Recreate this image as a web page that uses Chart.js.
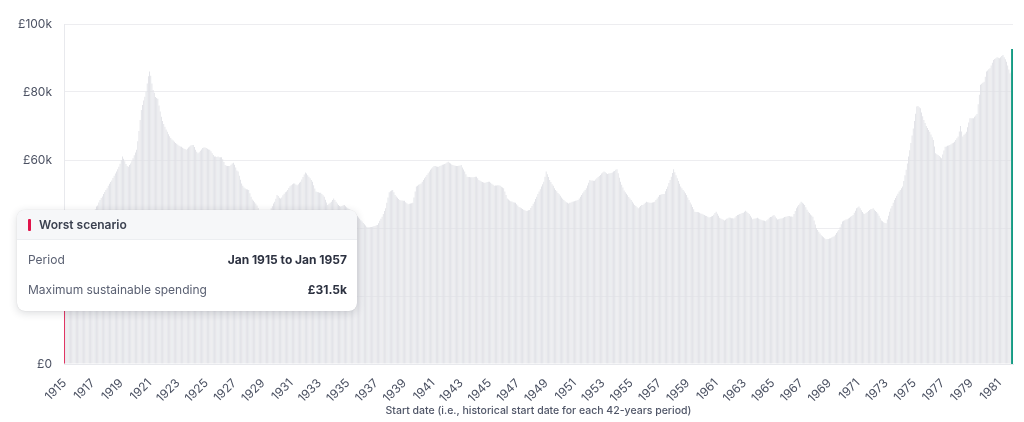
<!DOCTYPE html>
<html>
<head>
<meta charset="utf-8">
<title>Maximum sustainable spending</title>
<script src="https://cdn.jsdelivr.net/npm/chart.js@4.4.1/dist/chart.umd.min.js"></script>
<style>
  html, body { margin: 0; padding: 0; background: #fff; }
  #wrap { position: relative; width: 1024px; height: 422px; font-family: Inter, "Noto Sans", sans-serif; }
  #tip {
    position: absolute; left: 17px; top: 210px; width: 340px; height: 101px;
    background: #fff; border-radius: 8px; overflow: hidden;
    box-shadow: 0 2px 8px rgba(30, 35, 50, 0.16), 0 0 1px rgba(30, 35, 50, 0.2);
  }
  #tip .head {
    height: 29px; background: #f6f7f9; border-bottom: 1px solid #eceef1;
    display: flex; align-items: center; font-size: 12px; font-weight: 600; color: #3b4150;
  }
  #tip .mark { width: 3px; height: 12px; background: #e0134a; border-radius: 1px; margin: 0 8px 0 11px; }
  #tip .row { display: flex; justify-content: space-between; padding: 0 10px 0 11px; font-size: 12px; height: 30px; align-items: center; }
  #tip .lab { color: #5a6072; }
  #tip .val { color: #2c3140; font-weight: 700; }
</style>
</head>
<body>
<div id="wrap">
  <canvas id="chart"></canvas>
  <div id="tip">
    <div class="head"><span class="mark"></span><span>Worst scenario</span></div>
    <div class="row" style="margin-top:4px"><span class="lab">Period</span><span class="val" id="tipPeriod"></span></div>
    <div class="row"><span class="lab">Maximum sustainable spending</span><span class="val" id="tipValue"></span></div>
  </div>
</div>
<script>
// first start month of the series and length of each period
var startYear = 1915;
var periodYears = 42;
var monthNames = ['Jan', 'Feb', 'Mar', 'Apr', 'May', 'Jun', 'Jul', 'Aug', 'Sep', 'Oct', 'Nov', 'Dec'];

// labels shown under the x axis
var tickYears = ['1915', '1917', '1919', '1921', '1923', '1925', '1927', '1929', '1931', '1933', '1935',
  '1937', '1939', '1941', '1943', '1945', '1947', '1949', '1951', '1953', '1955', '1957', '1959',
  '1961', '1963', '1965', '1967', '1969', '1971', '1973', '1975', '1977', '1979', '1981'];

// maximum sustainable spending (in £k), one value per monthly start date, Jan 1915 .. Dec 1981
var spending = [
  31.5, 32.3, 32.9, 33.6, 34.1, 34.8, 35.3, 35.9, 36.6, 37.0, 37.7, 38.2, // 1915
  38.7, 39.3, 39.8, 40.1, 40.8, 41.2, 41.7, 42.0, 42.6, 43.0, 43.5, 43.9, // 1916
  44.4, 44.9, 45.5, 46.3, 46.6, 47.5, 48.2, 48.8, 49.3, 50.0, 50.6, 51.2, // 1917
  51.7, 52.4, 53.0, 53.5, 54.0, 54.7, 55.4, 56.0, 56.6, 57.3, 58.0, 58.9, // 1918
  60.0, 61.0, 60.4, 59.6, 58.8, 58.2, 58.0, 58.5, 59.0, 59.6, 60.5, 61.4, // 1919
  62.2, 63.0, 65.5, 68.5, 71.8, 74.7, 76.2, 77.5, 78.6, 80.0, 82.5, 84.6, // 1920
  86.0, 84.8, 82.5, 80.6, 79.8, 78.5, 78.2, 78.0, 76.0, 74.3, 72.7, 71.5, // 1921
  70.6, 69.8, 69.0, 68.3, 67.6, 67.0, 66.5, 66.0, 65.7, 65.4, 65.0, 64.8, // 1922
  64.5, 64.2, 64.0, 63.9, 63.6, 63.4, 63.2, 63.0, 63.3, 63.7, 64.0, 64.3, // 1923
  64.4, 64.4, 63.8, 63.0, 62.4, 62.0, 62.3, 62.7, 63.1, 63.5, 63.7, 63.7, // 1924
  63.5, 63.3, 63.1, 63.0, 62.6, 62.0, 61.5, 61.0, 61.0, 60.9, 61.0, 60.8, // 1925
  60.8, 60.8, 60.2, 59.4, 58.5, 58.3, 58.2, 58.2, 58.2, 58.6, 59.0, 59.2, // 1926
  58.6, 57.8, 56.9, 56.6, 55.4, 54.2, 53.1, 52.4, 51.9, 51.6, 51.4, 51.3, // 1927
  51.2, 50.2, 49.2, 48.4, 48.0, 47.6, 47.2, 46.6, 45.9, 45.3, 44.9, 44.6, // 1928
  44.3, 44.1, 44.0, 44.2, 44.5, 44.9, 45.3, 45.8, 46.4, 47.2, 47.7, 48.6, // 1929
  49.7, 49.4, 48.9, 48.7, 49.0, 49.6, 50.1, 50.5, 50.7, 51.2, 51.8, 52.3, // 1930
  52.6, 52.9, 53.1, 53.1, 52.8, 52.6, 52.9, 53.3, 53.6, 54.3, 55.0, 55.7, // 1931
  56.3, 56.0, 55.5, 55.1, 54.6, 54.1, 53.6, 52.6, 51.6, 50.7, 50.6, 50.5, // 1932
  50.4, 50.4, 50.0, 49.6, 49.2, 48.3, 47.5, 46.8, 47.1, 47.4, 47.7, 48.2, // 1933
  48.7, 48.2, 47.7, 47.2, 46.8, 46.5, 46.3, 46.5, 46.7, 46.8, 46.4, 46.1, // 1934
  45.8, 45.6, 45.4, 45.3, 44.9, 44.6, 44.3, 43.9, 43.5, 43.1, 42.7, 42.3, // 1935
  41.9, 41.5, 41.1, 40.7, 40.4, 40.2, 40.2, 40.3, 40.3, 40.4, 40.5, 40.6, // 1936
  40.8, 40.9, 41.4, 42.1, 42.7, 43.3, 44.1, 45.0, 45.8, 47.4, 49.0, 50.5, // 1937
  50.8, 51.0, 51.2, 50.5, 49.7, 49.3, 48.9, 48.5, 48.2, 48.1, 48.1, 48.0, // 1938
  48.0, 47.6, 47.3, 47.0, 47.1, 47.2, 47.3, 47.4, 49.0, 50.7, 52.2, 52.4, // 1939
  52.7, 52.9, 53.1, 53.6, 54.1, 54.6, 55.1, 55.6, 56.1, 56.6, 57.1, 57.5, // 1940
  57.9, 58.2, 58.2, 58.1, 58.0, 58.0, 58.2, 58.4, 58.6, 58.7, 58.8, 59.0, // 1941
  59.3, 59.5, 59.2, 59.0, 58.7, 58.5, 58.4, 58.3, 58.2, 58.2, 58.3, 58.4, // 1942
  58.5, 57.8, 57.2, 56.6, 55.8, 55.1, 55.0, 55.0, 54.9, 54.9, 54.9, 55.0, // 1943
  55.1, 55.1, 54.6, 54.1, 53.9, 53.7, 53.5, 53.4, 53.3, 53.4, 53.5, 53.6, // 1944
  53.6, 53.3, 53.0, 52.7, 52.4, 52.5, 52.5, 52.6, 52.6, 52.4, 52.1, 51.9, // 1945
  51.7, 50.7, 49.7, 48.7, 48.4, 48.1, 47.9, 47.8, 47.6, 47.5, 47.4, 47.0, // 1946
  46.6, 46.2, 46.0, 45.8, 45.6, 45.4, 45.2, 45.0, 45.1, 45.2, 45.3, 45.9, // 1947
  46.5, 47.1, 47.7, 48.5, 49.2, 50.0, 50.7, 51.4, 52.2, 52.9, 53.6, 55.1, // 1948
  56.6, 55.8, 55.0, 54.1, 53.5, 52.9, 52.4, 51.7, 51.2, 50.8, 50.3, 49.9, // 1949
  49.5, 49.0, 48.6, 48.2, 47.9, 47.6, 47.4, 47.2, 47.4, 47.5, 47.7, 47.8, // 1950
  47.9, 48.0, 48.1, 48.2, 48.7, 49.2, 49.7, 50.2, 50.7, 51.2, 51.7, 52.5, // 1951
  53.3, 54.1, 54.0, 54.0, 53.9, 53.9, 54.3, 54.6, 55.0, 55.3, 55.6, 56.0, // 1952
  56.3, 56.6, 56.4, 56.1, 55.9, 56.0, 56.1, 56.2, 56.3, 56.6, 56.8, 57.1, // 1953
  57.3, 56.1, 54.8, 53.6, 52.7, 51.9, 51.0, 50.5, 50.1, 49.6, 49.1, 48.7, // 1954
  48.2, 47.7, 47.2, 46.8, 46.5, 46.1, 45.8, 46.1, 46.5, 46.8, 46.8, 47.1, // 1955
  47.4, 47.7, 47.6, 47.5, 47.4, 47.4, 47.5, 47.6, 47.7, 48.2, 48.7, 49.2, // 1956
  49.7, 49.8, 49.9, 50.0, 50.0, 50.8, 51.5, 52.2, 53.2, 54.1, 55.1, 56.2, // 1957
  57.3, 56.4, 55.5, 54.6, 53.8, 53.0, 52.2, 51.7, 51.2, 50.7, 50.2, 49.7, // 1958
  49.0, 48.2, 47.5, 46.9, 46.2, 45.5, 44.8, 44.7, 44.7, 44.6, 44.5, 44.3, // 1959
  44.2, 44.0, 43.8, 43.6, 43.5, 43.3, 43.1, 43.2, 43.4, 43.5, 43.9, 44.4, // 1960
  44.8, 44.2, 43.6, 43.0, 42.8, 42.6, 42.4, 42.2, 42.4, 42.7, 42.9, 43.1, // 1961
  43.0, 42.9, 42.9, 42.8, 43.1, 43.5, 43.8, 43.9, 44.1, 44.2, 44.4, 44.5, // 1962
  44.8, 45.1, 44.8, 44.4, 44.1, 43.6, 43.1, 42.6, 42.7, 42.8, 42.9, 43.0, // 1963
  42.8, 42.6, 42.4, 42.3, 42.2, 42.1, 42.0, 42.3, 42.6, 43.0, 43.2, 43.3, // 1964
  43.6, 43.8, 43.4, 42.9, 42.5, 42.6, 42.7, 42.8, 42.9, 43.0, 43.2, 43.3, // 1965
  43.4, 43.5, 43.5, 43.4, 43.4, 43.3, 44.1, 45.0, 45.8, 46.3, 46.8, 47.2, // 1966
  47.7, 47.4, 47.1, 46.8, 46.1, 45.4, 44.8, 44.4, 44.0, 43.7, 43.3, 42.2, // 1967
  41.0, 39.9, 39.4, 38.9, 38.4, 37.9, 37.6, 37.3, 37.0, 36.7, 36.8, 36.8, // 1968
  36.9, 37.0, 37.2, 37.4, 37.6, 38.0, 38.5, 39.0, 39.4, 40.2, 41.1, 41.9, // 1969
  42.1, 42.3, 42.5, 42.6, 42.8, 43.0, 43.3, 43.5, 43.8, 44.5, 45.1, 45.8, // 1970
  46.0, 46.3, 45.8, 45.2, 44.7, 44.3, 44.1, 44.4, 44.7, 45.0, 45.3, 45.5, // 1971
  45.6, 45.8, 45.4, 45.0, 44.7, 44.3, 43.6, 42.9, 42.2, 42.0, 41.7, 41.5, // 1972
  41.4, 42.5, 43.6, 44.8, 45.7, 46.5, 47.4, 48.2, 48.8, 49.5, 50.1, 50.7, // 1973
  51.2, 51.7, 52.2, 53.8, 55.5, 57.1, 59.0, 61.0, 62.9, 65.0, 67.2, 69.3, // 1974
  71.5, 73.6, 75.7, 75.9, 75.5, 75.2, 74.0, 72.9, 71.8, 70.9, 70.0, 69.4, // 1975
  68.8, 68.3, 67.5, 66.7, 65.9, 64.0, 62.0, 61.7, 61.5, 61.2, 60.8, 60.5, // 1976
  61.6, 62.8, 63.9, 64.0, 64.2, 64.3, 64.4, 64.6, 64.9, 65.1, 65.4, 65.9, // 1977
  66.4, 66.9, 68.4, 70.0, 68.4, 66.9, 67.4, 67.8, 68.3, 69.6, 71.0, 72.3, // 1978
  72.3, 72.3, 72.3, 72.7, 73.1, 73.5, 76.4, 79.2, 82.1, 82.4, 82.7, 83.0, // 1979
  84.5, 86.0, 86.3, 86.7, 87.0, 87.8, 88.6, 89.4, 89.7, 89.9, 90.2, 90.1, // 1980
  89.9, 90.2, 90.6, 90.9, 90.2, 89.6, 88.9, 87.8, 86.6, 85.5, 86.0, 92.4  // 1981
];

// one category per monthly start date
var startDates = [];
spending.forEach(function(v, i){
  startDates.push(monthNames[i % 12] + ' ' + (startYear + Math.floor(i / 12)));
});

var worst = 0;
spending.forEach(function(v, i){ if (v < spending[worst]) worst = i; });
var last = spending.length - 1;

var fontFamily = 'Inter, "Noto Sans", sans-serif';

new Chart(document.getElementById('chart'), {
  type: 'bar',
  data: {
    labels: startDates,
    datasets: [{
      data: spending,
      backgroundColor: function(ctx){
        if (ctx.dataIndex === worst) return '#e0134a';
        if (ctx.dataIndex === last) return '#149b83';
        return '#dfe0e5';
      },
      inflateAmount: function(ctx){
        return ctx.dataIndex === last ? 0.9 : 'auto';
      },
      categoryPercentage: 0.8,
      barPercentage: 0.9
    }]
  },
  options: {
    responsive: true,
    maintainAspectRatio: false,
    animation: false,
    events: [],
    layout: { padding: { left: 0, right: 11, top: 24, bottom: 0 } },
    plugins: { legend: { display: false }, tooltip: { enabled: false } },
    scales: {
      x: {
        grid: { display: false },
        border: { color: '#e8e9ed' },
        ticks: {
          autoSkip: false,
          minRotation: 45,
          maxRotation: 45,
          padding: 4,
          color: '#4b5162',
          font: { family: fontFamily, size: 12 },
          callback: function(value, i){
            var label = startDates[i];
            if (label.indexOf('Jan ') !== 0) return '';
            var year = label.slice(4);
            return tickYears.indexOf(year) >= 0 ? year : '';
          }
        },
        title: {
          display: true,
          text: 'Start date (i.e., historical start date for each ' + periodYears + '-years period)',
          color: '#4f5567',
          font: { family: fontFamily, size: 10.5, weight: 500 },
          padding: { top: 0, bottom: 5 }
        },
        afterFit: function(scale){
          scale.height = 58;
          scale.paddingRight = 0;
        }
      },
      y: {
        min: 0,
        max: 100,
        ticks: {
          stepSize: 20,
          padding: 12,
          color: '#4b5162',
          font: { family: fontFamily, size: 12 },
          callback: function(v){ return v === 0 ? '£0' : '£' + v + 'k'; }
        },
        grid: { color: '#ededf0', drawTicks: false },
        border: { color: '#e8e9ed' },
        afterFit: function(scale){ scale.width = 64; }
      }
    }
  }
});

// worst scenario card
var ws = Math.floor(worst / 12) + startYear;
document.getElementById('tipPeriod').textContent =
  monthNames[worst % 12] + ' ' + ws + ' to ' + monthNames[worst % 12] + ' ' + (ws + periodYears);
document.getElementById('tipValue').textContent = '£' + spending[worst] + 'k';
</script>
</body>
</html>
